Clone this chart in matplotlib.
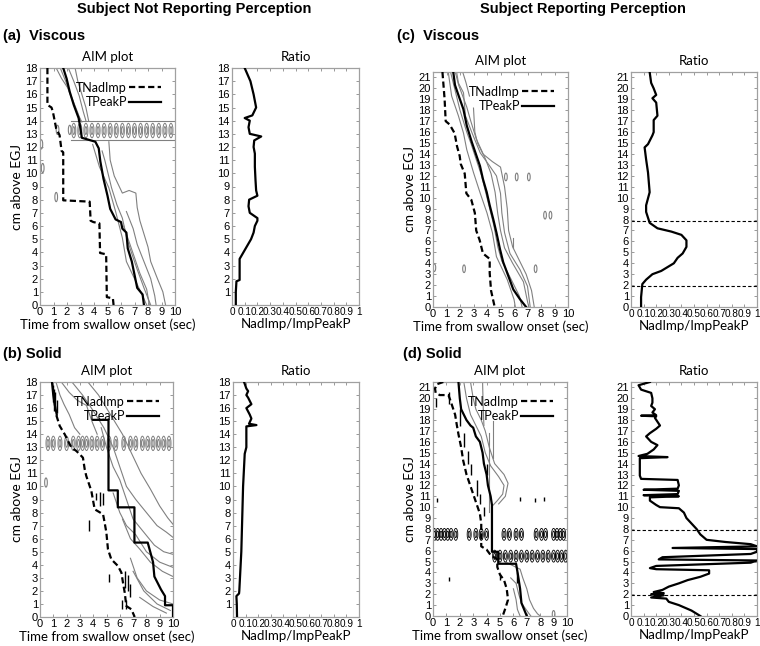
import matplotlib
matplotlib.use('Agg')
import matplotlib.pyplot as plt
from matplotlib.patches import Ellipse
from matplotlib.lines import Line2D

# ---------------- data ----------------
# Panel (a): viscous, subject not reporting perception
a_tnad_t = [0.55, 0.55, 0.85, 0.95, 1.2, 1.45, 1.6, 1.72, 1.72, 3.68, 3.75, 3.95, 4.4, 4.45, 4.9, 4.95, 5.4, 5.45]
a_tnad_y = [18, 15.2, 15.0, 14.7, 13.4, 12.9, 11.7, 11.6, 7.95, 7.85, 6.4, 6.3, 6.2, 3.95, 3.85, 0.6, 0.5, 0]
a_tpeak_t = [1.72, 1.97, 2.2, 2.5, 2.86, 3.0, 3.1, 4.1, 4.35, 4.47, 4.7, 5.0, 5.2, 5.6, 6.0, 6.1, 6.4, 6.5, 6.8, 7.0, 7.2, 7.6, 7.7]
a_tpeak_y = [18, 17.2, 16.2, 15.2, 14.2, 13.4, 12.7, 12.4, 11.9, 10.9, 9.6, 8.3, 7.3, 6.5, 6.3, 5.8, 5.5, 4.3, 3.3, 2.3, 1.3, 0.8, 0]
a_contours = [
    [(1.2, 18), (1.6, 17.2), (2.05, 16.5), (2.7, 14.7), (3.1, 13.9)],
    [(1.5, 18), (1.9, 17.0), (2.3, 15.9), (2.8, 14.6), (3.0, 14.0)],
    [(2.1, 18), (2.5, 17.0), (2.9, 15.9), (3.2, 14.7), (3.4, 14.0)],
    [(2.6, 18), (2.8, 17.0), (3.1, 16.0), (3.4, 15.0), (3.6, 14.0)],
    [(3.9, 12.2), (4.4, 10.5), (5.1, 8.9), (5.6, 7.1), (6.1, 5.1), (6.4, 3.3), (7.0, 2.0), (7.6, 0.7), (7.9, 0)],
    [(4.6, 11.7), (4.8, 11.0), (5.3, 8.9), (5.7, 7.6), (6.1, 6.6), (6.4, 5.2), (6.7, 4.2), (7.2, 2.7), (7.7, 1.3), (8.2, 0)],
    [(6.4, 7.1), (6.9, 5.8), (7.2, 4.6), (7.7, 3.3), (8.2, 2.0), (8.5, 0.7), (8.6, 0)],
    [(6.2, 6.0), (6.6, 4.8), (7.0, 3.6), (7.4, 2.4), (7.9, 1.2), (8.1, 0)],
    [(5.1, 12.4), (5.2, 11.0), (5.5, 9.8), (6.1, 8.5), (6.6, 8.7), (7.1, 8.5), (7.2, 7.4), (7.4, 6.4), (7.7, 5.4), (8.0, 4.4), (8.2, 3.3), (8.7, 2.0), (9.1, 1.0), (9.3, 0)],
    [(2.3, 12.55), (10, 12.55)],
    [(2.3, 14.0), (10, 14.0)],
]
a_band_x = [2.5, 2.95, 3.4, 3.85, 4.3, 4.75, 5.2, 5.65, 6.1, 6.55, 7.0, 7.45, 7.9, 8.35, 8.8, 9.25, 9.7]
a_band_y = 13.25
a_blobs = [(0.1, 12.2), (0.2, 10.4), (1.2, 8.2), (1.3, 13.3), (2.2, 13.3)]
a_ratio_x = [0.03, 0.03, 0.035, 0.06, 0.06, 0.09, 0.12, 0.15, 0.17, 0.18, 0.2, 0.2, 0.14, 0.13, 0.135, 0.2, 0.19, 0.185, 0.18, 0.18, 0.17, 0.175, 0.23, 0.14, 0.13, 0.14, 0.1, 0.16, 0.19, 0.17, 0.145, 0.1]
a_ratio_y = [0.0, 1.0, 1.8, 1.9, 3.5, 4.0, 4.5, 5.0, 5.5, 6.0, 6.4, 6.6, 7.0, 7.5, 8.0, 8.3, 8.7, 9.5, 10.5, 11.5, 12.0, 12.5, 12.8, 13.0, 13.5, 14.0, 14.2, 14.4, 15.0, 16.0, 17.0, 18.0]

# Panel (b): solid, subject not reporting perception
b_tnad_t = [1.23, 1.48, 1.86, 2.1, 2.36, 2.73, 2.98, 3.23, 3.36, 3.48, 3.86, 4.11, 4.74, 4.86, 4.99, 5.11, 5.36, 5.86, 6.12, 6.24, 6.37, 6.49, 6.87, 7.12]
b_tnad_y = [15.45, 14.64, 13.99, 13.5, 12.98, 12.72, 12.47, 12.2, 11.32, 10.8, 9.66, 8.25, 7.87, 7.23, 6.47, 5.19, 4.42, 3.91, 3.4, 2.63, 1.87, 0.84, 0.59, 0.0]
b_tpeak_t = [0.9, 1.0, 1.1, 1.26, None, 4.0, 5.15, 5.15, 5.85, 5.85, 7.1, 7.1, 8.1, 8.5, 8.6, 9.1, 9.4, 9.4, 10.0, 10.0]
b_tpeak_y = [18, 17.0, 16.3, 15.5, None, 15.1, 15.1, 9.7, 9.7, 8.4, 8.4, 5.7, 5.7, 4.2, 3.1, 2.1, 1.6, 0.9, 0.9, 0.0]
b_contours = [
    [(1.2, 18), (1.5, 17), (1.8, 16.3), (2.2, 15.5), (2.6, 14.5), (3.0, 14.0)],
    [(1.6, 18), (2.2, 17.2), (2.8, 16.6), (3.5, 16.2), (3.9, 15.0), (4.3, 14.0)],
    [(2.4, 18), (3.2, 17.0), (4.0, 15.8), (4.8, 14.5), (5.5, 13.0), (6.0, 11.5), (6.5, 10.0), (7.2, 9.0), (8.0, 8.0), (8.8, 7.0), (9.5, 6.5), (10, 6.1)],
    [(3.6, 18), (4.4, 17.0), (5.0, 16.0), (5.6, 15.0), (6.2, 14.0), (6.9, 12.5), (7.6, 11.0), (8.3, 9.8), (9.0, 8.5), (9.6, 7.6), (10, 7.1)],
    [(4.6, 14.5), (5.0, 13), (5.5, 11.5), (6.0, 10.5), (6.5, 9.0), (7.0, 7.5), (7.8, 6.5), (8.6, 5.5), (9.3, 5.0), (10, 4.8)],
    [(5.5, 9.5), (6.0, 8.0), (6.5, 7.0), (7.2, 6.3), (8.0, 5.0), (9.0, 4.2), (10, 3.8)],
    [(6.2, 7.5), (6.8, 6.0), (7.5, 5.2), (8.3, 4.2), (9.2, 3.5), (10, 3.1)],
    [(6.8, 4.5), (7.3, 3.0), (8.0, 2.0), (9.0, 1.3), (10, 1.0)],
    [(7.0, 3.5), (7.8, 2.0), (8.8, 1.0), (9.8, 0.5)],
    [(7.5, 1.5), (8.5, 0.8), (9.5, 0.3)],
]
b_band_x = [0.6, 1.0, 1.5, 2.0, 2.5, 2.9, 3.2, 3.5, 3.9, 4.3, 4.7, 5.2, 5.7, 6.3, 6.8, 7.2, 7.7, 8.1, 8.5, 8.9, 9.3, 9.7]
b_band_y = 13.3
b_blobs = [(0.45, 10.3)]
b_marks_x = [0.95, 1.05, 1.15, 1.25, 3.7, 4.5, 4.7, 4.2, 5.2, 6.4, 6.6, 6.5, 6.2, 6.8]
b_marks_y0 = [16.5, 15.8, 16.0, 15.6, 6.6, 8.5, 8.6, 9.0, 2.7, 2.2, 2.0, 0.6, 0.6, 1.5]
b_marks_y1 = [17.8, 17.5, 17.2, 16.6, 7.4, 9.6, 9.5, 9.5, 3.3, 3.5, 3.2, 1.3, 1.3, 2.5]
b_ratio_x = [0.032, 0.03, 0.027, 0.048, 0.05, 0.066, 0.08, 0.093, 0.106, 0.106, 0.106, 0.186, 0.127, 0.146, 0.133, 0.106, 0.146, 0.12, 0.106, 0.12, 0.106, 0.088]
b_ratio_y = [0.0, 1.0, 1.6, 1.8, 2.0, 5.0, 10.0, 12.5, 13.0, 14.0, 14.6, 14.7, 14.8, 15.2, 15.5, 16.0, 16.3, 16.8, 17.0, 17.3, 17.5, 18.0]

# Panel (c): viscous, subject reporting perception
c_tnad_t = [0.7, 0.86, 0.94, 1.23, 1.6, 1.78, 1.98, 2.05, 2.35, 2.47, 2.84, 3.1, 3.2, 3.46, 3.7, 4.2, 4.2, 4.3, 4.57]
c_tnad_y = [21.5, 19.0, 17.0, 16.7, 15.9, 14.7, 13.8, 13.1, 12.2, 10.4, 9.8, 8.6, 7.0, 6.1, 4.9, 4.4, 3.1, 1.5, 0.0]
c_tpeak_t = [1.5, 1.63, 1.88, 2.25, 2.5, 2.87, 3.23, 3.48, 3.7, 3.98, 4.2, 4.47, 4.7, 4.96, 5.2, 5.58, 5.95, 6.45, 6.9]
c_tpeak_y = [21.5, 20.3, 19.4, 18.1, 16.6, 15.1, 13.8, 12.9, 11.7, 10.5, 9.3, 8.0, 6.8, 5.3, 4.1, 2.84, 1.6, 0.7, 0.0]
c_contours = [
    [(1.13, 21.5), (1.38, 19.3), (1.88, 17.5), (2.26, 15.9), (2.5, 14.4), (3.0, 12.3), (3.5, 10.4), (4.0, 8.6), (4.4, 6.8), (4.7, 4.6), (5.5, 2.5), (6.0, 0.7), (6.1, 0)],
    [(1.3, 21.5), (1.6, 20), (2.0, 18), (2.5, 16), (2.8, 15), (3.2, 13.5), (3.6, 12), (3.9, 10.5), (4.2, 9), (4.5, 7.5), (4.8, 5.5), (5.1, 4.2), (5.8, 2.5), (6.4, 1), (6.6, 0)],
    [(1.65, 21.5), (1.9, 20.3), (2.5, 18.3), (2.8, 17), (3.2, 15.4), (3.9, 13.5), (4.3, 12.2), (4.6, 10.5), (4.8, 8.5), (5.0, 7), (5.3, 5.4), (5.9, 4), (6.7, 2.3), (7.0, 0.5), (7.1, 0)],
    [(1.75, 21.5), (1.88, 20.5), (2.26, 19.6), (2.4, 17.5), (2.9, 15.9), (3.5, 14.1), (4.2, 12.9), (4.7, 12.0), (5.0, 10.4), (5.1, 8.6), (5.3, 6.8), (5.7, 4.9), (6.45, 3.4), (7.0, 1.9), (7.2, 0)],
    [(2.2, 21.5), (2.45, 20.5), (2.7, 19.3)],
    [(3.0, 18.2), (3.1, 16), (3.3, 15), (3.7, 14), (4.4, 13.3), (5.0, 12.8), (5.3, 11), (5.5, 9), (5.6, 7), (5.9, 5.5), (6.3, 4.5), (6.9, 3), (7.3, 1.5), (7.5, 0)],
    [(5.9, 5.4), (5.9, 6.3)],
]
c_blobs = [(0.1, 3.6), (2.3, 3.5), (7.6, 3.5), (5.4, 11.9), (6.2, 11.9), (7.1, 11.9), (8.3, 8.4), (8.7, 8.4)]
c_ratio_x = [0.08, 0.08, 0.085, 0.09, 0.09, 0.12, 0.17, 0.24, 0.34, 0.37, 0.41, 0.44, 0.44, 0.4, 0.32, 0.21, 0.148, 0.12, 0.12, 0.148, 0.135, 0.12, 0.108, 0.135, 0.17, 0.18, 0.18, 0.21, 0.2, 0.17, 0.2, 0.18, 0.16, 0.148]
c_ratio_y = [0.0, 0.9, 1.5, 2.1, 2.1, 2.5, 3.0, 3.3, 4.0, 4.5, 4.9, 5.5, 6.1, 6.6, 6.9, 7.2, 7.7, 8.7, 9.3, 10.5, 12.3, 13.5, 14.6, 14.9, 15.7, 16.0, 17.1, 17.5, 18.7, 19.1, 19.4, 20.0, 20.5, 21.5]

# Panel (d): solid, subject reporting perception
d_tnad_t = [0.77, 0.3, 0.15, 0.2, 0.5, 1.15, 1.3, 1.65, 1.77, 1.9, 2.1, 2.25, 2.5, 2.75, 3.0, 3.25, 3.5, 3.6, 3.6, 4.0, 4.3, 4.8, 4.8, 5.0, 5.3, 5.5, 5.6, 5.4, 5.2]
d_tnad_y = [21.5, 21.3, 20.9, 20.5, 20.3, 20.3, 19.8, 18.5, 17.6, 16.7, 15.5, 14.3, 13.0, 12.1, 11.2, 10.3, 9.4, 8.5, 6.4, 6.1, 5.6, 5.2, 4.5, 3.8, 3.3, 2.5, 1.5, 0.7, 0.0]
d_tpeak_t = [1.9, 2.0, 2.1, 2.5, 2.8, 3.0, 3.2, 3.5, 3.7, 3.8, 4.0, 4.1, 4.3, 4.4, 4.4, 4.87, 4.87, 6.2, 6.35, 6.5, 6.6, 7.0]
d_tpeak_y = [21.5, 20.0, 19.0, 18.0, 17.5, 17.3, 16.5, 16.0, 15.0, 14.0, 13.0, 12.0, 11.0, 10.2, 5.9, 5.9, 4.8, 4.8, 3.7, 2.5, 1.2, 0.0]
d_contours = [
    [(2.3, 21.5), (2.5, 20.0), (2.8, 18.5), (3.2, 17.5), (3.6, 16.5), (3.9, 15.0), (4.3, 13.8), (4.9, 12.8), (5.3, 12.0), (5.2, 11.2), (4.8, 10.6), (4.5, 10.2)],
    [(2.8, 21.5), (3.0, 20), (3.2, 19), (3.6, 18.0), (3.9, 17.0), (4.2, 15.5), (4.6, 14), (5.3, 13), (5.6, 12.2), (5.4, 11.0), (4.9, 10.3)],
    [(3.7, 21.5), (3.75, 19.0), (3.8, 17.5)],
    [(4.15, 16.8), (4.15, 9.6)],
    [(4.5, 17.9), (4.5, 14.5)],
    [(5.5, 4.9), (6.0, 4.6), (6.5, 4.3), (6.7, 3.5), (7.0, 2.5), (7.2, 1.5), (7.5, 0.7), (7.8, 0.2), (8.0, 0)],
    [(5.8, 3.5), (6.2, 3.0), (6.4, 2.0), (6.6, 1.2), (7.0, 0.5), (7.3, 0)],
    [(6.0, 2.5), (6.2, 1.5), (6.3, 0.6), (6.5, 0)],
]
d_blobs = [(9.0, 0.15)]
d_band1_x = [0.1, 0.35, 0.6, 0.85, 1.1, 1.35, 1.7, 2.7, 3.2, 3.6, 4.0, 5.3, 5.7, 6.2, 6.6, 7.7, 8.1, 8.4, 9.0, 9.25, 9.5, 9.75]
d_band1_y = 7.5
d_band2_x = [4.6, 5.0, 5.4, 5.8, 6.2, 6.6, 7.0, 7.4, 7.8, 8.2, 8.6, 9.0, 9.3, 9.6, 9.9]
d_band2_y = 5.5
d_marks_x = [0.2, 1.2, 2.0, 2.3, 2.6, 2.8, 3.3, 3.5, 3.8, 4.0, 0.3, 6.5, 7.6, 8.3, 1.2, 5.0, 6.3]
d_marks_y0 = [19.2, 19.5, 17.5, 15.5, 14.0, 13.0, 11.0, 10.3, 9.2, 13.0, 10.5, 10.6, 10.5, 10.6, 3.2, 3.3, 3.0]
d_marks_y1 = [20.0, 20.6, 19.0, 16.8, 15.2, 14.0, 12.5, 11.2, 10.0, 14.0, 10.8, 10.9, 10.8, 10.9, 3.6, 3.9, 4.0]
d_ratio_x = [0.55, 0.48, 0.38, 0.3, 0.28, 0.16, 0.26, 0.16, 0.26, 0.18, 0.25, 0.3, 0.38, 0.45, 0.55, 0.62, 0.62, 0.2, 0.15, 0.2, 0.95, 1.0, 0.22, 0.25, 0.95, 1.0, 1.0, 0.33, 1.0, 0.95, 0.75, 0.6, 0.55, 0.52, 0.48, 0.44, 0.42, 0.38, 0.23, 0.2, 0.15, 0.15, 0.38, 0.1, 0.37, 0.38, 0.1, 0.37, 0.38, 0.37, 0.08, 0.07, 0.07, 0.07, 0.29, 0.06, 0.13, 0.18, 0.21, 0.16, 0.12, 0.15, 0.2, 0.23, 0.19, 0.2, 0.08, 0.2, 0.17, 0.19, 0.16, 0.17, 0.17, 0.16, 0.08, 0.06, 0.15]
d_ratio_y = [0.0, 0.5, 1.0, 1.3, 1.6, 1.7, 1.9, 2.0, 2.1, 2.2, 2.4, 2.7, 3.0, 3.3, 3.6, 3.9, 4.2, 4.3, 4.4, 4.6, 4.9, 5.1, 5.2, 5.4, 5.7, 5.9, 6.15, 6.25, 6.4, 6.6, 6.8, 7.0, 7.5, 8.0, 8.5, 9.0, 9.5, 9.9, 10.0, 10.2, 10.6, 10.9, 11.0, 11.1, 11.2, 11.5, 11.6, 11.7, 12.0, 12.5, 12.6, 12.9, 14.1, 14.5, 14.6, 14.7, 14.9, 15.3, 15.7, 16.0, 16.5, 16.8, 17.2, 17.5, 18.2, 18.35, 18.4, 18.45, 18.7, 19.0, 19.3, 19.6, 20.0, 20.5, 20.8, 21.2, 21.5]

ratio_thresholds = [7.9, 1.95]

# --------------- style ---------------
TICKFONT = ['Liberation Sans Narrow', 'Liberation Sans', 'DejaVu Sans']
TXTFONT = ['Lato', 'DejaVu Sans']
GRAY = '#808080'
LW = 1.6
plt.rcParams['font.family'] = TXTFONT

fig = plt.figure(figsize=(7.6, 6.46), dpi=100)


def style_axes(ax, xmax, xticks, xlabels, ymax, yticks, xfs=8):
    ax.set_xlim(0, xmax)
    ax.set_ylim(0, ymax)
    ax.set_xticks(xticks)
    ax.set_xticklabels(xlabels, fontfamily=TICKFONT, fontsize=xfs)
    ax.set_yticks(yticks)
    ax.set_yticklabels([str(v) for v in yticks], fontfamily=TICKFONT, fontsize=8)
    ax.tick_params(direction='in', length=2.5, width=0.6, color='#888888', pad=1.5,
                   top=True, right=True)
    for s in ax.spines.values():
        s.set_color('#a0a0a0')
        s.set_linewidth(0.9)


def draw_aim(ax, ymax, tnad_t, tnad_y, tpeak_t, tpeak_y, contours, blobs,
             bands=(), marks=None):
    for line in contours:
        xs = [p[0] for p in line]
        ys = [p[1] for p in line]
        ax.plot(xs, ys, color=GRAY, lw=0.8, zorder=2)
    for (bx, by) in blobs:
        ax.add_patch(Ellipse((bx, by), 0.2, 0.7, fill=False, ec=GRAY, lw=0.8))
    for (xs, yc, col, lw) in bands:
        for bx in xs:
            ax.add_patch(Ellipse((bx, yc), 0.3, 1.1, fill=False, ec=col, lw=lw))
            ax.add_patch(Ellipse((bx, yc), 0.14, 0.6, fill=False, ec=col, lw=lw))
    if marks is not None:
        mx, my0, my1 = marks
        ax.vlines(mx, my0, my1, color='black', lw=1.0)
    t = [float('nan') if v is None else v for v in tpeak_t]
    y = [float('nan') if v is None else v for v in tpeak_y]
    ax.plot(tnad_t, tnad_y, color='black', lw=LW, ls=(0, (2.8, 1.5)), zorder=4)
    ax.plot(t, y, color='black', lw=LW, zorder=4)
    style_axes(ax, 10, range(11), [str(v) for v in range(11)], ymax, list(range(0, int(ymax) + 1)))
    ax.set_title('AIM plot', fontsize=9.5, pad=5)
    ax.set_xlabel('Time from swallow onset (sec)', fontsize=9.5, labelpad=1)
    ax.set_ylabel('cm above EGJ', fontsize=10, labelpad=2)
    handles = [Line2D([], [], color='black', lw=LW, ls=(0, (2.8, 1.5))),
               Line2D([], [], color='black', lw=LW)]
    ax.legend(handles, ['TNadImp', 'TPeakP'], loc='upper right', frameon=False,
              markerfirst=False, handlelength=2.6, handletextpad=0.15,
              labelspacing=0.2, fontsize=9, borderaxespad=0.7)


def draw_ratio(ax, ymax, rx, ry, yticks, thresholds=()):
    for th in thresholds:
        ax.axhline(th, color='black', lw=0.8, ls=(0, (3, 2)))
    ax.plot(rx, ry, color='black', lw=LW, zorder=4)
    xt = [i / 10 for i in range(11)]
    xl = ['0'] + ['0.%d' % i for i in range(1, 10)] + ['1']
    style_axes(ax, 1, xt, xl, ymax, yticks, xfs=7.2)
    ax.set_title('Ratio', fontsize=9.5, pad=5)
    ax.set_xlabel('NadImp/ImpPeakP', fontsize=9.5, labelpad=1)


W = 760.0
H = 646.0


def box(l, t, r, b):
    return [l / W, 1 - b / H, (r - l) / W, (b - t) / H]


ax_a = fig.add_axes(box(40, 68, 175, 305))
ax_ar = fig.add_axes(box(232, 68, 359, 305))
ax_c = fig.add_axes(box(433, 72, 568, 307))
ax_cr = fig.add_axes(box(631, 72, 757, 307))
ax_b = fig.add_axes(box(40, 382, 173, 617))
ax_br = fig.add_axes(box(233, 382, 359, 617))
ax_d = fig.add_axes(box(433, 382, 567, 616))
ax_dr = fig.add_axes(box(631, 382, 757, 616))

draw_aim(ax_a, 18, a_tnad_t, a_tnad_y, a_tpeak_t, a_tpeak_y, a_contours, a_blobs,
         bands=[(a_band_x, a_band_y, GRAY, 0.7)])
draw_ratio(ax_ar, 18, a_ratio_x, a_ratio_y, list(range(1, 19)))

draw_aim(ax_b, 18, b_tnad_t, b_tnad_y, b_tpeak_t, b_tpeak_y, b_contours, b_blobs,
         bands=[(b_band_x, b_band_y, GRAY, 0.7)], marks=(b_marks_x, b_marks_y0, b_marks_y1))
draw_ratio(ax_br, 18, b_ratio_x, b_ratio_y, list(range(1, 19)))

draw_aim(ax_c, 21.5, c_tnad_t, c_tnad_y, c_tpeak_t, c_tpeak_y, c_contours, c_blobs)
draw_ratio(ax_cr, 21.5, c_ratio_x, c_ratio_y, list(range(0, 22)), ratio_thresholds)

draw_aim(ax_d, 21.5, d_tnad_t, d_tnad_y, d_tpeak_t, d_tpeak_y, d_contours, d_blobs,
         bands=[(d_band1_x, d_band1_y, 'black', 0.6), (d_band2_x, d_band2_y, 'black', 0.6)],
         marks=(d_marks_x, d_marks_y0, d_marks_y1))
draw_ratio(ax_dr, 21.5, d_ratio_x, d_ratio_y, list(range(0, 22)), ratio_thresholds)

HEAD = ['Liberation Sans', 'DejaVu Sans']
fig.text(194 / W, 1 - 9 / H, 'Subject Not Reporting Perception', ha='center', va='center',
         fontsize=10.5, fontweight='bold', fontfamily=HEAD)
fig.text(583 / W, 1 - 9 / H, 'Subject Reporting Perception', ha='center', va='center',
         fontsize=10.5, fontweight='bold', fontfamily=HEAD)
fig.text(3 / W, 1 - 36 / H, '(a)  Viscous', ha='left', va='center', fontsize=10.5,
         fontweight='bold', fontfamily=HEAD)
fig.text(397 / W, 1 - 36 / H, '(c)  Viscous', ha='left', va='center', fontsize=10.5,
         fontweight='bold', fontfamily=HEAD)
fig.text(3 / W, 1 - 354 / H, '(b) Solid', ha='left', va='center', fontsize=10.5,
         fontweight='bold', fontfamily=HEAD)
fig.text(403 / W, 1 - 354 / H, '(d) Solid', ha='left', va='center', fontsize=10.5,
         fontweight='bold', fontfamily=HEAD)

fig.savefig('out.png', dpi=100)
